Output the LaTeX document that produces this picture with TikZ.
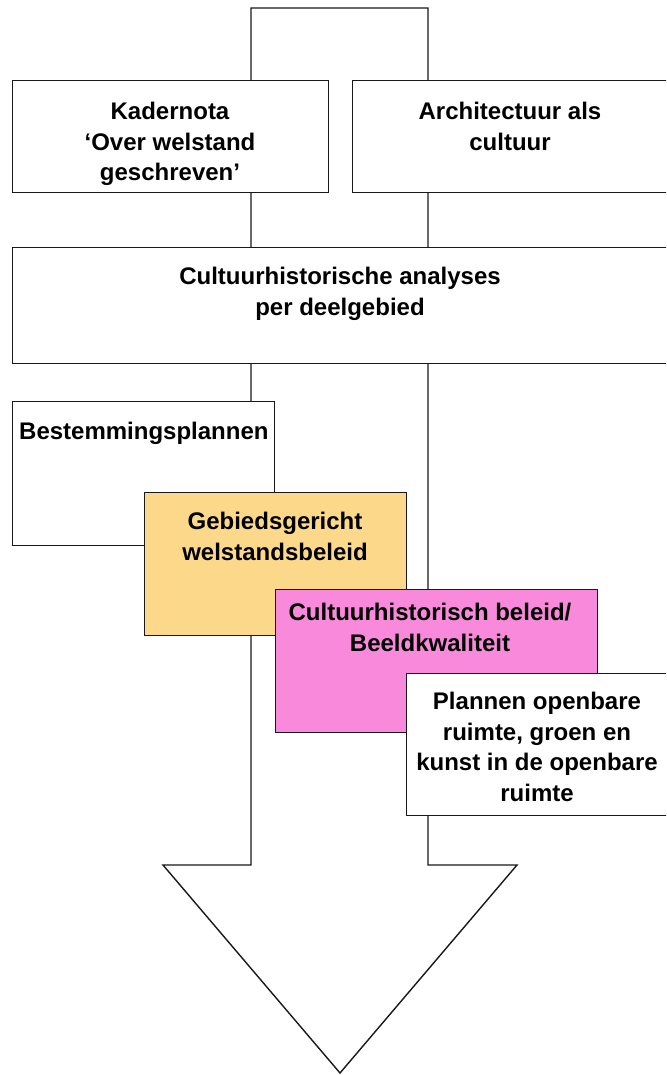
\documentclass[tikz,border=0pt]{standalone}
\usepackage{fontspec}
\setmainfont{Liberation Sans}
\definecolor{boxline}{RGB}{25,25,25}
\definecolor{orangefill}{RGB}{252,217,138}
\definecolor{pinkfill}{RGB}{249,137,218}
\tikzset{
  box/.style={draw=boxline, line width=1.4pt, fill=white, inner sep=0pt, anchor=north west},
  lbl/.style={font=\bfseries\fontsize{24}{30.5}\selectfont, align=center, inner sep=0pt, anchor=north, text=black},
  arrowline/.style={draw=boxline, line width=1.4pt, fill=white, line join=miter},
}
\begin{document}
\begin{tikzpicture}[x=1pt,y=-1pt]
\clip (0,0) rectangle (666,1075);
\fill[white] (0,0) rectangle (666,1075);
% big arrow behind everything
\draw[arrowline] (251,8) -- (428,8) -- (428,865) -- (517,865) -- (340,1073) -- (163,865) -- (251,865) -- cycle;
% boxes
\node[box, minimum width=316pt, minimum height=112pt] (kader) at (12,80) {};
\node[box, minimum width=330pt, minimum height=112pt] (arch) at (352,80) {};
\node[box, minimum width=670pt, minimum height=116pt] (analyse) at (12,247) {};
\node[box, minimum width=262pt, minimum height=144pt] (bestem) at (12,401) {};
\node[box, fill=orangefill, minimum width=262pt, minimum height=143pt] (gebied) at (144,492) {};
\node[box, fill=pinkfill, minimum width=322pt, minimum height=143pt] (cult) at (275,589) {};
\node[box, minimum width=280pt, minimum height=142pt] (plannen) at (406,673) {};
% labels
\node[lbl] (tkader) at (170,102) {Kadernota\\‘Over welstand\\geschreven’};
\node[lbl] (tarch) at (510,102) {Architectuur als\\cultuur};
\node[lbl] (tanalyse) at (340,267) {Cultuurhistorische analyses\\per deelgebied};
\node[lbl, anchor=north west] (tbestem) at (19,422) {Bestemmingsplannen};
\node[lbl] (tgebied) at (275,512) {Gebiedsgericht\\welstandsbeleid};
\node[lbl] (tcult) at (430,603) {Cultuurhistorisch beleid/\\Beeldkwaliteit};
\node[lbl] (tplannen) at (537,692) {Plannen openbare\\ruimte, groen en\\kunst in de openbare\\ruimte};
\end{tikzpicture}
\end{document}
